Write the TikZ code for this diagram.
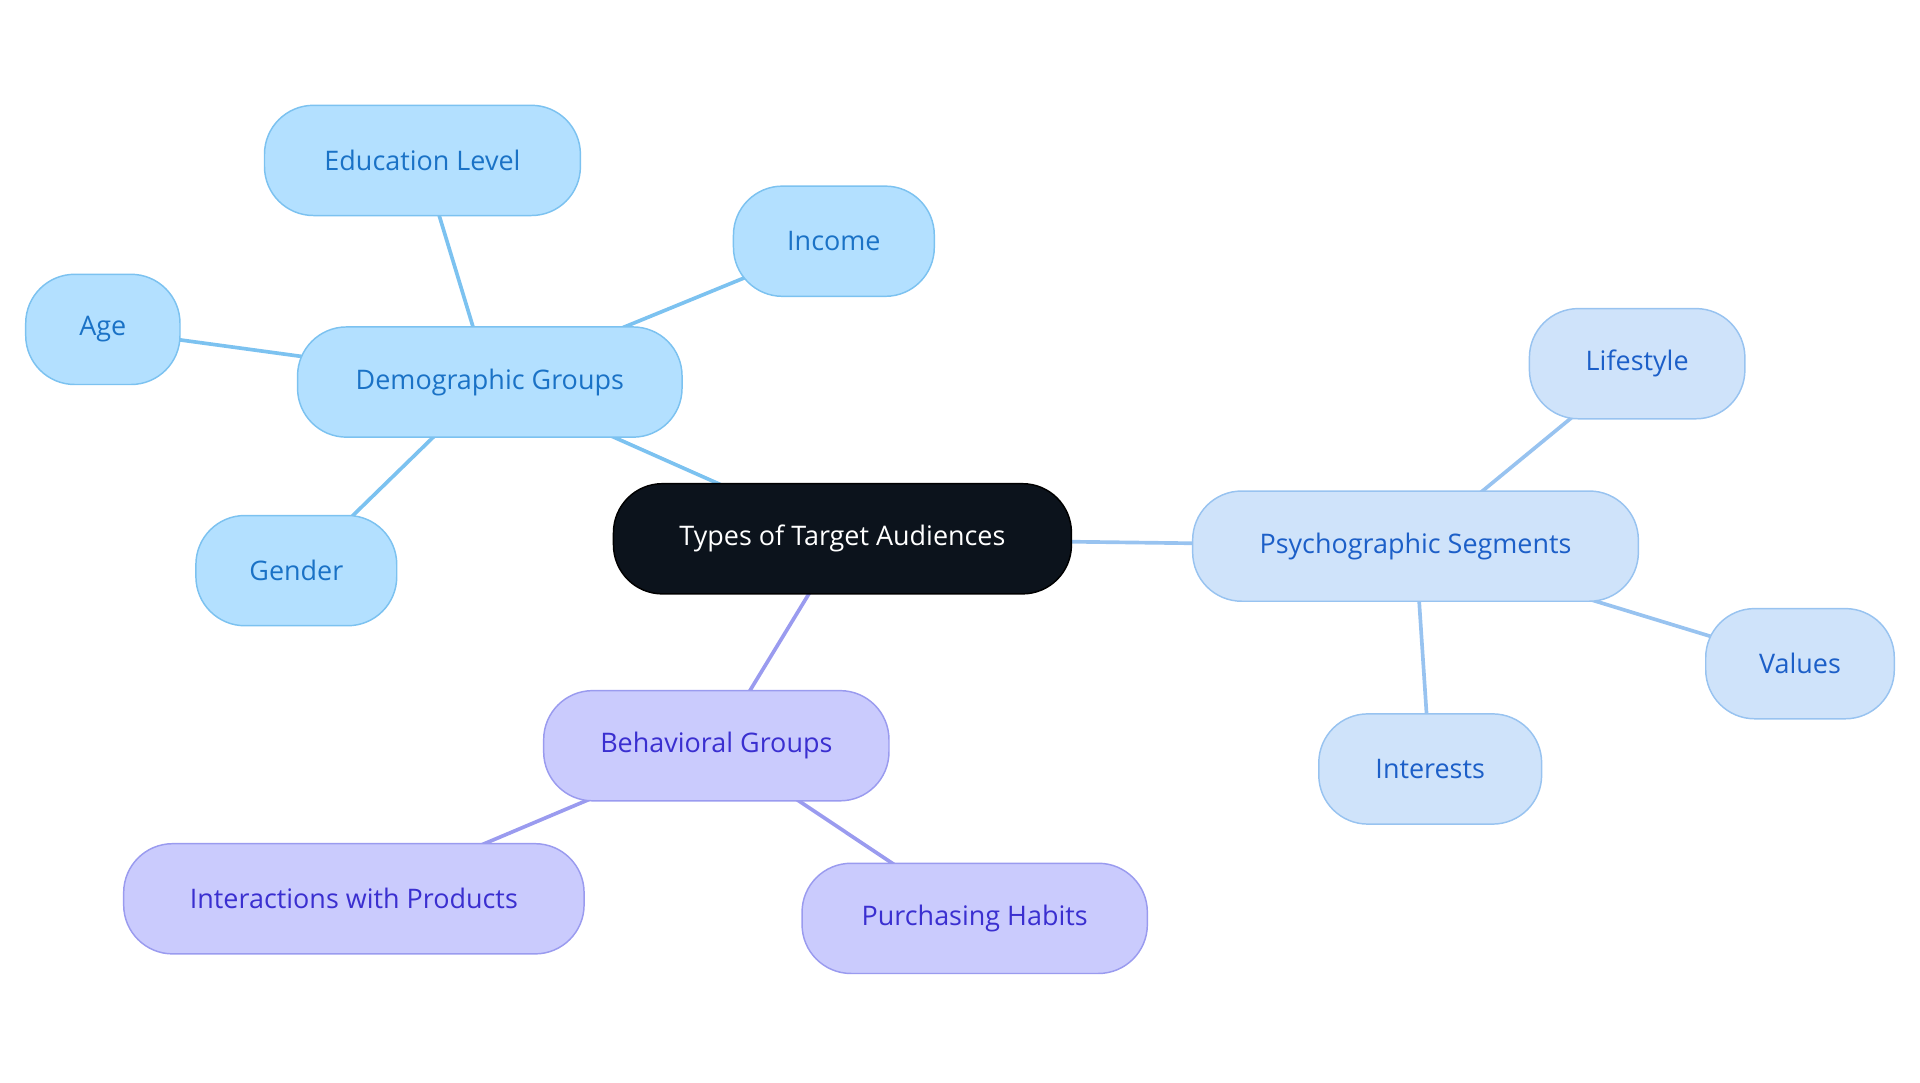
\documentclass[tikz,border=0pt]{standalone}
\usepackage{fontspec}
\setmainfont{Open Sans}
\usetikzlibrary{backgrounds}
\definecolor{dfill}{HTML}{B3E0FF}\definecolor{dline}{HTML}{7CC2F0}\definecolor{dtext}{HTML}{1A72C6}
\definecolor{pfill}{HTML}{CFE3FA}\definecolor{pline}{HTML}{98C3F0}\definecolor{ptext}{HTML}{1C5FC8}
\definecolor{bfill}{HTML}{CACBFD}\definecolor{bline}{HTML}{9A9BEF}\definecolor{btext}{HTML}{3A2FD0}
\definecolor{cfill}{HTML}{0C131C}
\begin{document}
\begin{tikzpicture}[x=1pt,y=-1pt,
 box/.style={rounded corners=40pt,minimum height=90pt,inner sep=0pt,line width=1.2pt,font=\fontsize{22}{26}\selectfont},
 dem/.style={box,fill=dfill,draw=dline,text=dtext},
 psy/.style={box,fill=pfill,draw=pline,text=ptext},
 beh/.style={box,fill=bfill,draw=bline,text=btext},
 dl/.style={draw=dline,line width=3pt},
 pl/.style={draw=pline,line width=3pt},
 bl/.style={draw=bline,line width=3pt}]
\useasboundingbox (0,0) rectangle (1568,884);
\node[box,fill=cfill,draw=black,text=white,minimum width=374pt] (c) at (688,440) {Types of Target Audiences};
\node[dem,minimum width=314pt] (d) at (400,312) {Demographic Groups};
\node[dem,minimum width=258pt] (ed) at (345,131) {Education Level};
\node[dem,minimum width=164pt] (in) at (681,197) {Income};
\node[dem,minimum width=126pt] (ag) at (84,269) {Age};
\node[dem,minimum width=164pt] (ge) at (242,466) {Gender};
\node[psy,minimum width=364pt] (p) at (1156,446) {Psychographic Segments};
\node[psy,minimum width=176pt] (li) at (1337,297) {Lifestyle};
\node[psy,minimum width=154pt] (va) at (1470,542) {Values};
\node[psy,minimum width=182pt] (it) at (1168,628) {Interests};
\node[beh,minimum width=282pt] (b) at (585,609) {Behavioral Groups};
\node[beh,minimum width=376pt] (ip) at (289,734) {Interactions with Products};
\node[beh,minimum width=282pt] (ph) at (796,750) {Purchasing Habits};
\begin{scope}[on background layer]
\draw[dl] (c.center) -- (d.center);
\draw[dl] (d.center) -- (ed.center);
\draw[dl] (d.center) -- (in.center);
\draw[dl] (d.center) -- (ag.center);
\draw[dl] (d.center) -- (ge.center);
\draw[pl] (c.center) -- (p.center);
\draw[pl] (p.center) -- (li.center);
\draw[pl] (p.center) -- (va.center);
\draw[pl] (p.center) -- (it.center);
\draw[bl] (c.center) -- (b.center);
\draw[bl] (b.center) -- (ip.center);
\draw[bl] (b.center) -- (ph.center);
\end{scope}
\end{tikzpicture}
\end{document}
